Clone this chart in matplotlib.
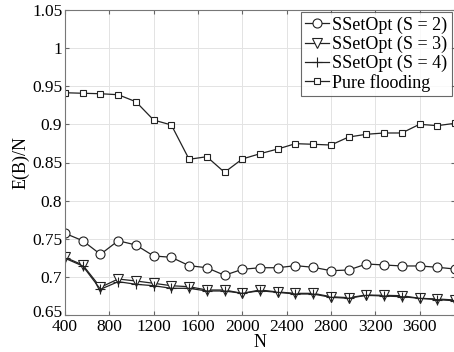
import matplotlib
matplotlib.use("Agg")
import matplotlib.pyplot as plt
import matplotlib.transforms as mtransforms
import numpy as np

plt.rcParams['font.family'] = ['Liberation Serif', 'DejaVu Serif']
plt.rcParams['mathtext.fontset'] = 'stix'

N = [400 + 160 * k for k in range(23)]

s2 = [0.7571, 0.7474, 0.7296, 0.7474, 0.7418, 0.7274, 0.7257, 0.7147, 0.7120, 0.7021,
      0.7099, 0.7120, 0.7120, 0.7147, 0.7126, 0.7081, 0.7090, 0.7169, 0.7156, 0.7143,
      0.7143, 0.7126, 0.7103]
s3 = [0.7257, 0.7156, 0.6863, 0.6972, 0.6946, 0.6916, 0.6884, 0.6871, 0.6828, 0.6828,
      0.6784, 0.6828, 0.6802, 0.6784, 0.6784, 0.6740, 0.6727, 0.6762, 0.6758, 0.6753,
      0.6719, 0.6710, 0.6697]
s4 = [0.7244, 0.7143, 0.6837, 0.6937, 0.6903, 0.6884, 0.6850, 0.6850, 0.6815, 0.6815,
      0.6784, 0.6818, 0.6797, 0.6775, 0.6775, 0.6732, 0.6719, 0.6758, 0.6749, 0.6740,
      0.6719, 0.6701, 0.6687]
flood = [0.9415, 0.9408, 0.9402, 0.9389, 0.9297, 0.9057, 0.8992, 0.8542, 0.8576, 0.8371,
         0.8546, 0.8615, 0.8677, 0.8747, 0.8739, 0.8729, 0.8834, 0.8870, 0.8887, 0.8887,
         0.9001, 0.8983, 0.9014]

labels = ['SSetOpt (S = 2)', 'SSetOpt (S = 3)', 'SSetOpt (S = 4)', 'Pure flooding']
xticks = [400, 800, 1200, 1600, 2000, 2400, 2800, 3200, 3600]
yticks = [0.65, 0.7, 0.75, 0.8, 0.85, 0.9, 0.95, 1.0, 1.05]

W, H = 454, 352
fig = plt.figure(figsize=(W / 100, H / 100), dpi=100)
ax = fig.add_axes([65 / W, 1 - 315 / H, (455 - 65) / W, (315 - 10) / H])

lc = '#222222'
kw = dict(color=lc, lw=0.9, mfc='white', mec=lc, mew=0.8)
ax.plot(N, s2, marker='o', ms=6.5, label=labels[0], **kw)
ax.plot(N, s3, marker='v', ms=6.5, label=labels[1], **kw)
ax.plot(N, s4, marker='+', ms=7, label=labels[2], **kw)
ax.plot(N, flood, marker='s', ms=5, label=labels[3], **kw)

ax.set_xlim(400, 3920)
ax.set_ylim(0.65, 1.05)
ax.set_xticks(xticks)
ax.set_xticklabels([str(x) for x in xticks])
ax.set_yticks(yticks)
ax.set_yticklabels(['%g' % y for y in yticks])
ax.grid(True, color='#e3e3e3', lw=0.7)
ax.set_axisbelow(True)
ax.tick_params(direction='in', top=True, right=True, labelsize=12.5, length=3,
               color='#666666', pad=2)
ax.tick_params(axis='x', pad=3)
for sp in ax.spines.values():
    sp.set_color('#777777')
    sp.set_linewidth(0.8)

# raise the lowest y label slightly, as in the reference
lab0 = ax.get_yticklabels()[0]
lab0.set_transform(lab0.get_transform() +
                   mtransforms.ScaledTranslation(0, 4 / 100, fig.dpi_scale_trans))

ax.set_xlabel('N', fontsize=13, labelpad=-1)
ax.set_ylabel('E(B)/N', fontsize=13, labelpad=2)

leg = ax.legend(loc='upper right', bbox_to_anchor=((452 - 65) / 390, 1 - 2 / 305),
                fontsize=13, frameon=True, fancybox=False, edgecolor='#444444',
                handlelength=1.3, handletextpad=0.2, borderpad=0.25, labelspacing=0.1,
                borderaxespad=0.0)
leg.get_frame().set_linewidth(0.8)

fig.savefig('out.png', dpi=100)
